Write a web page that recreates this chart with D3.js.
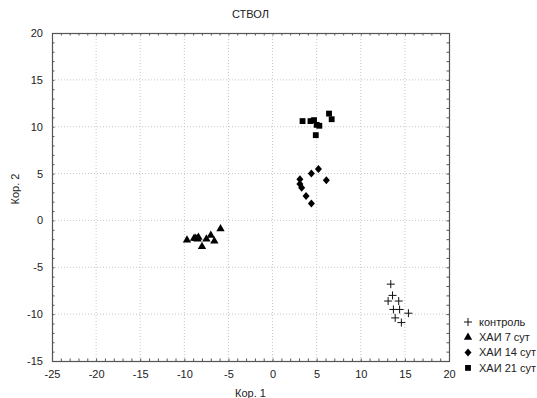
<!DOCTYPE html>
<html>
<head>
<meta charset="utf-8">
<script src="https://cdn.jsdelivr.net/npm/d3@7"></script>
<style>
  body { margin: 0; background: #fff; }
  svg { font-family: "Liberation Sans", Arial, sans-serif; }
  .axis text { font-size: 11px; fill: #222; }
</style>
</head>
<body>
<div id="chart"></div>
<script>
// Данные (Кор. 1, Кор. 2)
const kontrol = [[13.4,-6.8],[13.6,-8.0],[13.1,-8.6],[14.3,-8.6],[13.7,-9.5],[14.4,-9.5],[15.4,-9.9],[13.9,-10.4],[14.6,-10.9]];
const hai7 = [[-9.7,-2.1],[-8.9,-1.9],[-8.7,-1.9],[-8.5,-2.0],[-8.4,-1.8],[-8.0,-2.8],[-7.5,-2.0],[-7.0,-1.6],[-6.6,-2.2],[-5.9,-0.9]];
const hai14 = [[5.2,5.5],[4.4,5.0],[6.1,4.3],[3.1,4.4],[3.1,3.9],[3.3,3.5],[3.8,2.6],[4.4,1.8]];
const hai21 = [[3.4,10.6],[4.3,10.6],[4.7,10.7],[5.0,10.2],[5.3,10.1],[4.9,9.1],[6.4,11.4],[6.7,10.8]];
const seriesNames = ['контроль', 'ХАИ 7 сут', 'ХАИ 14 сут', 'ХАИ 21 сут'];
const xTicks = [-25, -20, -15, -10, -5, 0, 5, 10, 15, 20];
const yTicks = [-15, -10, -5, 0, 5, 10, 15, 20];

const W = 537, H = 398;
const margin = {top: 33, right: 88, bottom: 37, left: 52};
const width = W - margin.left - margin.right;
const height = H - margin.top - margin.bottom;

const root = d3.select('#chart').append('svg')
    .attr('width', W)
    .attr('height', H);

const svg = root.append('g')
    .attr('transform', `translate(${margin.left},${margin.top})`);

// Шкалы
const x = d3.scaleLinear().domain([-25, 20]).range([0, width]);
const y = d3.scaleLinear().domain([-15, 20]).range([height, 0]);
const fmt = d => String(d); // дефис вместо знака минус

// Сетка
svg.append('g')
    .selectAll('line')
    .data(xTicks.slice(1, -1))
    .enter().append('line')
    .attr('x1', d => x(d)).attr('x2', d => x(d))
    .attr('y1', 0).attr('y2', height)
    .attr('stroke', '#c8c8c8')
    .attr('stroke-dasharray', '1,2');

svg.append('g')
    .selectAll('line')
    .data(yTicks.slice(1, -1))
    .enter().append('line')
    .attr('y1', d => y(d)).attr('y2', d => y(d))
    .attr('x1', 0).attr('x2', width)
    .attr('stroke', '#c8c8c8')
    .attr('stroke-dasharray', '1,2');

// Мелкие засечки внутри рамки
const minorX = d3.range(-24, 20, 1);
const minorY = d3.range(-14, 20, 1);
const ticksG = svg.append('g').attr('stroke', '#555').attr('stroke-width', 1);
minorX.forEach(v => {
    ticksG.append('line').attr('x1', x(v) + 0.5).attr('x2', x(v) + 0.5).attr('y1', 0).attr('y2', 2.5);
    ticksG.append('line').attr('x1', x(v) + 0.5).attr('x2', x(v) + 0.5).attr('y1', height).attr('y2', height - 2.5);
});
minorY.forEach(v => {
    ticksG.append('line').attr('y1', y(v) + 0.5).attr('y2', y(v) + 0.5).attr('x1', 0).attr('x2', 2.5);
    ticksG.append('line').attr('y1', y(v) + 0.5).attr('y2', y(v) + 0.5).attr('x1', width).attr('x2', width - 2.5);
});

// Оси
svg.append('g')
    .attr('class', 'axis')
    .attr('transform', `translate(0,${height})`)
    .call(d3.axisBottom(x).tickValues(xTicks).tickSize(0).tickPadding(9).tickFormat(fmt))
    .call(g => g.select('.domain').remove());

svg.append('g')
    .attr('class', 'axis')
    .call(d3.axisLeft(y).tickValues(yTicks).tickSize(0).tickPadding(9).tickFormat(fmt))
    .call(g => g.select('.domain').remove());

// Рамка
svg.append('rect')
    .attr('x', 0.5).attr('y', 0.5)
    .attr('width', width).attr('height', height)
    .attr('fill', 'none')
    .attr('stroke', '#555')
    .attr('stroke-width', 1.2);

// Маркеры
const symbols = [d3.symbolCross, d3.symbolTriangle, d3.symbolDiamond, d3.symbolSquare];
const sizes = [0, 30, 30, 34];

function drawMarker(g, i, cx, cy) {
    if (i === 0) {
        g.append('path')
            .attr('d', `M${cx - 4},${cy}H${cx + 4}M${cx},${cy - 4}V${cy + 4}`)
            .attr('stroke', '#111')
            .attr('stroke-width', 1)
            .attr('fill', 'none');
    } else if (i === 2) {
        g.append('path')
            .attr('d', `M${cx},${cy - 4}L${cx + 3.5},${cy}L${cx},${cy + 4}L${cx - 3.5},${cy}Z`)
            .attr('fill', '#000');
    } else {
        g.append('path')
            .attr('transform', `translate(${cx},${cy})`)
            .attr('d', d3.symbol().type(symbols[i]).size(sizes[i])())
            .attr('fill', '#000');
    }
}

const allSeries = [kontrol, hai7, hai14, hai21];
const pts = svg.append('g');
allSeries.forEach((data, i) => {
    data.forEach(d => drawMarker(pts, i, x(d[0]), y(d[1])));
});

// Легенда
const legend = root.append('g');
seriesNames.forEach((name, i) => {
    const ly = 322 + i * 15.3;
    drawMarker(legend, i, 468, ly);
    legend.append('text')
        .attr('x', 479)
        .attr('y', ly)
        .attr('dy', '0.35em')
        .style('font-size', '11px')
        .style('fill', '#222')
        .text(name);
});

// Заголовок и подписи осей
root.append('text')
    .attr('x', margin.left + width / 2)
    .attr('y', 18)
    .style('text-anchor', 'middle')
    .style('font-size', '11px')
    .style('fill', '#222')
    .text('СТВОЛ');

root.append('text')
    .attr('x', margin.left + width / 2)
    .attr('y', 397)
    .style('text-anchor', 'middle')
    .style('font-size', '11px')
    .style('fill', '#222')
    .text('Кор. 1');

root.append('text')
    .attr('transform', `translate(19,${margin.top + height / 2 - 8}) rotate(-90)`)
    .style('text-anchor', 'middle')
    .style('font-size', '11px')
    .style('fill', '#222')
    .text('Кор. 2');
</script>
</body>
</html>
